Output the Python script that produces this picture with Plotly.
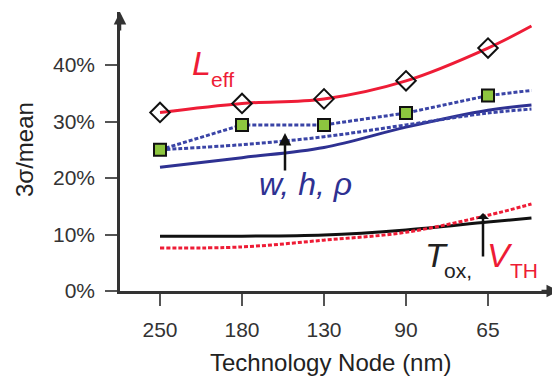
import plotly.graph_objects as go

# ---- data ----
nodes = ["250", "180", "130", "90", "65"]
node_x = [0, 1, 2, 3, 4]
curve_x = [0, 1, 2, 3, 4, 4.53]          # curves continue past the 65 nm node

leff = [31.6, 33.2, 34.0, 37.2, 43.0, 46.9]
wire_marked = [25.0, 29.4, 29.4, 31.5, 34.6, 35.5]
wire_dotted = [25.0, 25.9, 27.3, 29.4, 31.5, 32.2]
wire_solid = [21.9, 23.6, 25.4, 29.0, 32.0, 32.9]
tox = [9.7, 9.7, 9.9, 10.8, 12.2, 12.9]
vth = [7.6, 7.8, 9.0, 10.4, 13.4, 15.4]

y_ticks = [0, 10, 20, 30, 40]
y_tick_text = ["%d%%" % v for v in y_ticks]

RED = "#ee1c36"
BLUE = "#2e3192"
BLUE_DOT = "#3a44a6"
GREEN = "#8dc63f"
AX = "#333333"
FONT = "Liberation Sans"

OFF = 8  # page body margin offset
W, H = 560 - OFF, 381 - OFF
ML, MR, MT, MB = 120 - OFF, 0, 12 - OFF, 90
PW, PH = W - ML - MR, H - MT - MB


def xp(px):
    return (px - OFF - ML) / PW


def yp(py):
    return (H - MB - (py - OFF)) / PH


fig = go.Figure()

fig.add_trace(go.Scatter(x=curve_x, y=wire_solid, mode="lines", line=dict(color=BLUE, width=3, shape="spline"), showlegend=False))
fig.add_trace(go.Scatter(x=curve_x, y=wire_dotted, mode="lines", line=dict(color=BLUE_DOT, width=3, dash="4px,2px", shape="spline"), showlegend=False))
fig.add_trace(go.Scatter(x=curve_x, y=wire_marked, mode="lines", line=dict(color=BLUE_DOT, width=3, dash="4px,2px"), showlegend=False))
fig.add_trace(go.Scatter(x=node_x, y=wire_marked[:5], mode="markers",
                         marker=dict(symbol="square", size=12, color=GREEN, line=dict(color="#111", width=2)), showlegend=False))
fig.add_trace(go.Scatter(x=curve_x, y=tox, mode="lines", line=dict(color="#111111", width=3, shape="spline"), showlegend=False))
fig.add_trace(go.Scatter(x=curve_x, y=vth, mode="lines", line=dict(color=RED, width=3, dash="4px,2px", shape="spline"), showlegend=False))
fig.add_trace(go.Scatter(x=curve_x, y=leff, mode="lines", line=dict(color=RED, width=3, shape="spline"), showlegend=False))
fig.add_trace(go.Scatter(x=node_x, y=leff[:5], mode="markers",
                         marker=dict(symbol="diamond-open", size=15, color="#111", line=dict(color="#111", width=2)), showlegend=False))

ann = []


def txt(text, px, py, size, color, italic=False):
    ann.append(dict(text=("<i>%s</i>" % text) if italic else text, x=xp(px), y=yp(py), xref="paper", yref="paper",
                    showarrow=False, xanchor="center", yanchor="middle",
                    font=dict(family=FONT, size=size, color=color)))


txt("L", 201, 63, 34, RED, True)
txt("eff", 222, 80, 21, RED)
txt("w, h, ρ", 305, 184, 32, BLUE, True)
txt("T", 436, 255, 34, "#222", True)
txt("ox,", 458, 270, 21, "#222")
txt("V", 500, 255, 34, RED, True)
txt("TH", 524, 270, 21, RED)

# pointer arrows
ann.append(dict(x=xp(285), y=yp(133), xref="paper", yref="paper", ax=0, ay=39, text="",
                showarrow=True, arrowhead=2, arrowsize=1, arrowwidth=2.5, arrowcolor="#111"))
ann.append(dict(x=xp(483), y=yp(213), xref="paper", yref="paper", ax=0, ay=45, text="",
                showarrow=True, arrowhead=1, arrowsize=0.8, arrowwidth=2.5, arrowcolor="#111"))
# axis arrowheads
ann.append(dict(x=1, y=0, xref="paper", yref="paper", ax=-20, ay=0, text="",
                showarrow=True, arrowhead=2, arrowsize=1, arrowwidth=2.5, arrowcolor=AX))
ann.append(dict(x=0, y=1, xref="paper", yref="paper", ax=0, ay=20, text="",
                showarrow=True, arrowhead=2, arrowsize=1, arrowwidth=2.5, arrowcolor=AX))
# axis titles
ann.append(dict(text="Technology Node (nm)", x=xp(330), y=yp(362), xref="paper", yref="paper", showarrow=False,
                xanchor="center", yanchor="middle", font=dict(family=FONT, size=24, color="#222")))
ann.append(dict(text="3σ/mean", x=xp(24), y=yp(150), xref="paper", yref="paper", showarrow=False, textangle=-90,
                xanchor="center", yanchor="middle", font=dict(family=FONT, size=24, color="#222")))

fig.update_layout(
    width=W, height=H,
    margin=dict(l=ML, r=MR, t=MT, b=MB, pad=0),
    plot_bgcolor="white", paper_bgcolor="white",
    annotations=ann,
    font=dict(family=FONT),
)
fig.update_xaxes(range=[-0.488, 4.878], tickvals=node_x, ticktext=nodes, showgrid=False, zeroline=False,
                 showline=True, linecolor=AX, linewidth=2.5, ticks="outside", ticklen=12, tickwidth=2,
                 tickcolor="#555", tickfont=dict(family=FONT, size=21, color="#333"), ticklabelstandoff=6)
fig.update_yaxes(range=[0, 49.38], tickvals=y_ticks, ticktext=y_tick_text, showgrid=False, zeroline=False,
                 showline=True, linecolor=AX, linewidth=2.5, ticks="outside", ticklen=12, tickwidth=2,
                 tickcolor="#555", tickfont=dict(family=FONT, size=21, color="#333"), ticklabelstandoff=6)

fig.write_html("out.html")
